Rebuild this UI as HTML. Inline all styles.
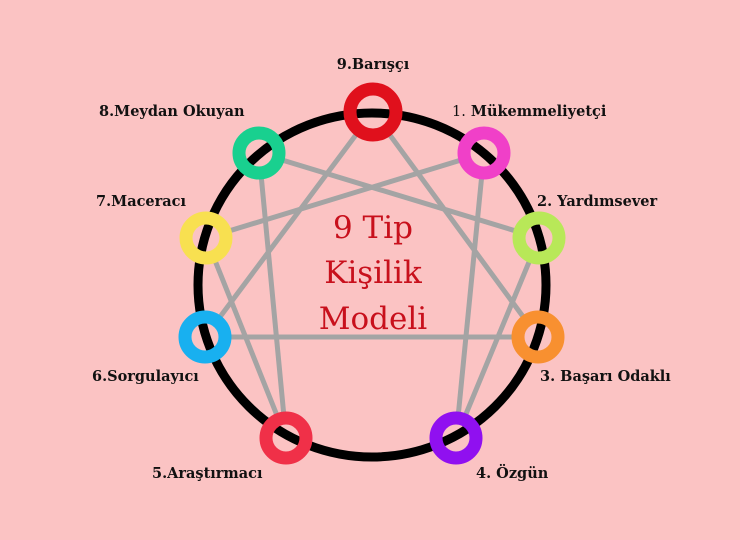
<!DOCTYPE html>
<html><head><meta charset="utf-8"><style>
html,body{margin:0;padding:0;background:#fbc3c3;}
svg{display:block}
</style></head><body>
<svg width="740" height="540" viewBox="0 0 740 540" xmlns="http://www.w3.org/2000/svg">
<rect width="740" height="540" fill="#fbc3c3"/>
<g stroke="#a4a4a4" stroke-width="5" fill="none">
<polygon points="373,112 538,337 205,337"/>
<polyline points="484,153 456,438 539,238 259,153 286,438 206,238 484,153"/>
</g>
<g fill="#fbc3c3">
<circle cx="373" cy="112" r="26"/>
<circle cx="259" cy="153" r="23"/>
<circle cx="484" cy="153" r="23"/>
<circle cx="206" cy="238" r="23"/>
<circle cx="539" cy="238" r="23"/>
<circle cx="205" cy="337" r="23"/>
<circle cx="538" cy="337" r="23"/>
<circle cx="286" cy="438" r="23"/>
<circle cx="456" cy="438" r="23"/>
</g>
<ellipse cx="372" cy="285" rx="174" ry="172" fill="none" stroke="#000" stroke-width="9"/>
<g fill="none" stroke-width="13">
<circle cx="373" cy="112" r="23" stroke="#e0101c"/>
<circle cx="259" cy="153" r="20" stroke="#19d08f"/>
<circle cx="484" cy="153" r="20" stroke="#f040c8"/>
<circle cx="206" cy="238" r="20" stroke="#f8e050"/>
<circle cx="539" cy="238" r="20" stroke="#b8e858"/>
<circle cx="205" cy="337" r="20" stroke="#18b0f0"/>
<circle cx="538" cy="337" r="20" stroke="#f89030"/>
<circle cx="286" cy="438" r="20" stroke="#f03048"/>
<circle cx="456" cy="438" r="20" stroke="#9010f0"/>
</g>
<g font-family="'DejaVu Serif','Liberation Serif',serif" font-weight="bold" font-size="14.5" fill="#111">
<text x="373" y="69" text-anchor="middle">9.Barışçı</text>
<text x="99" y="116">8.Meydan Okuyan</text>
<text x="452" y="116"><tspan font-weight="normal">1.</tspan>  Mükemmeliyetçi</text>
<text x="96" y="206">7.Maceracı</text>
<text x="537" y="206">2. Yardımsever</text>
<text x="92" y="381">6.Sorgulayıcı</text>
<text x="540" y="381">3. Başarı Odaklı</text>
<text x="152" y="478">5.Araştırmacı</text>
<text x="476" y="478">4. Özgün</text>
</g>
<g font-family="'DejaVu Serif','Liberation Serif',serif" font-size="31" fill="#c8101c" text-anchor="middle">
<text x="373" y="238">9 Tip</text>
<text x="373" y="283">Kişilik</text>
<text x="373" y="329">Modeli</text>
</g>
</svg>
</body></html>
